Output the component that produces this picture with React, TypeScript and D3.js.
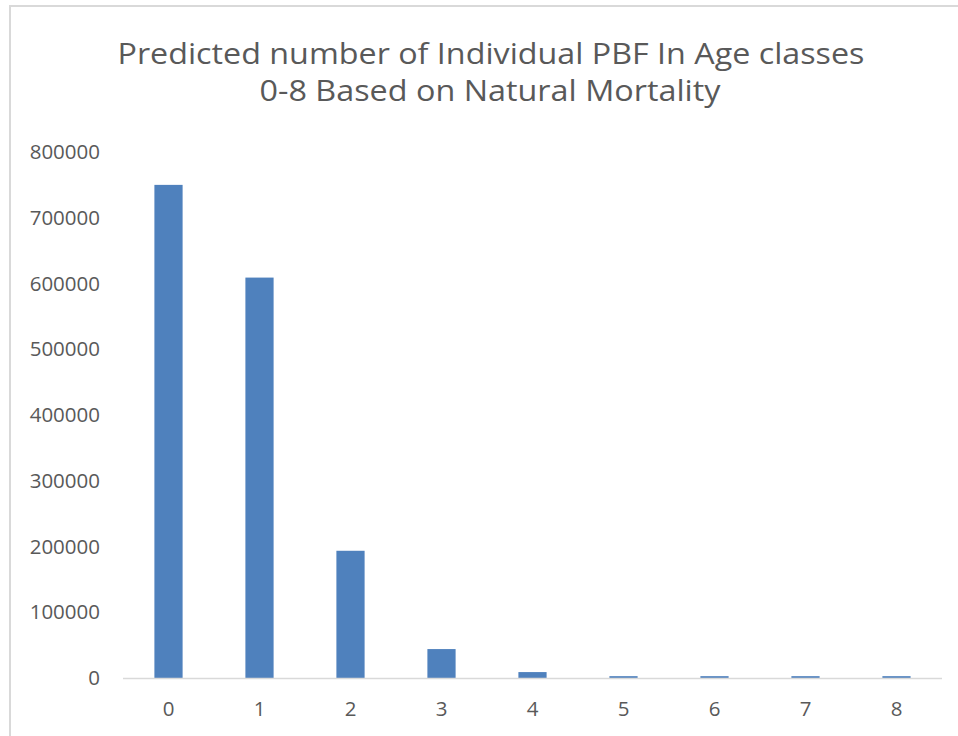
import React from "react";
import * as d3 from "d3";

const categories = ["0", "1", "2", "3", "4", "5", "6", "7", "8"];
const values = [750000, 609000, 193500, 44000, 9000, 2800, 2800, 2800, 2800];
const yTicks = [0, 100000, 200000, 300000, 400000, 500000, 600000, 700000, 800000];
const titleLines = [
  "Predicted number of Individual PBF In Age classes",
  "0-8 Based on Natural Mortality",
];

const W = 958;
const H = 736;
const FONT = "'Open Sans', 'Noto Sans', sans-serif";
const TEXT = "#595959";

export default function App() {
  const x = d3
    .scaleBand<string>()
    .domain(categories)
    .range([123, 942])
    .paddingInner(0.69)
    .paddingOuter(0.345);
  const y = d3.scaleLinear().domain([0, 800000]).range([678, 152]);

  return (
    <svg
      width={W}
      height={H}
      style={{ position: "absolute", left: 0, top: 0, background: "#fff" }}
      fontFamily={FONT}
    >
      <rect x={0} y={0} width={W} height={H} fill="#fff" />
      <path d={`M10,${H + 2} L10,6 L${W + 2},6`} fill="none" stroke="#d9d9d9" strokeWidth={2} />
      <text x={491} y={64} textAnchor="middle" fontSize={29} fill={TEXT} textLength={747} lengthAdjust="spacingAndGlyphs">
        {titleLines[0]}
      </text>
      <text x={490} y={101} textAnchor="middle" fontSize={29} fill={TEXT} textLength={461} lengthAdjust="spacingAndGlyphs">
        {titleLines[1]}
      </text>
      {yTicks.map((t) => (
        <text
          key={t}
          x={100}
          y={y(t)}
          dy="0.35em"
          textAnchor="end"
          fontSize={20.5}
          fill={TEXT}
        >
          {t}
        </text>
      ))}
      {categories.map((c, i) => (
        <rect
          key={c}
          x={x(c)!}
          y={y(values[i])}
          width={x.bandwidth()}
          height={y(0) - y(values[i])}
          fill="#4f81bd"
        />
      ))}
      <line x1={123} x2={942} y1={y(0) + 0.5} y2={y(0) + 0.5} stroke="#d9d9d9" strokeWidth={1.5} />
      {categories.map((c) => (
        <text
          key={c}
          x={x(c)! + x.bandwidth() / 2}
          y={716}
          textAnchor="middle"
          fontSize={20.5}
          fill={TEXT}
        >
          {c}
        </text>
      ))}
    </svg>
  );
}
